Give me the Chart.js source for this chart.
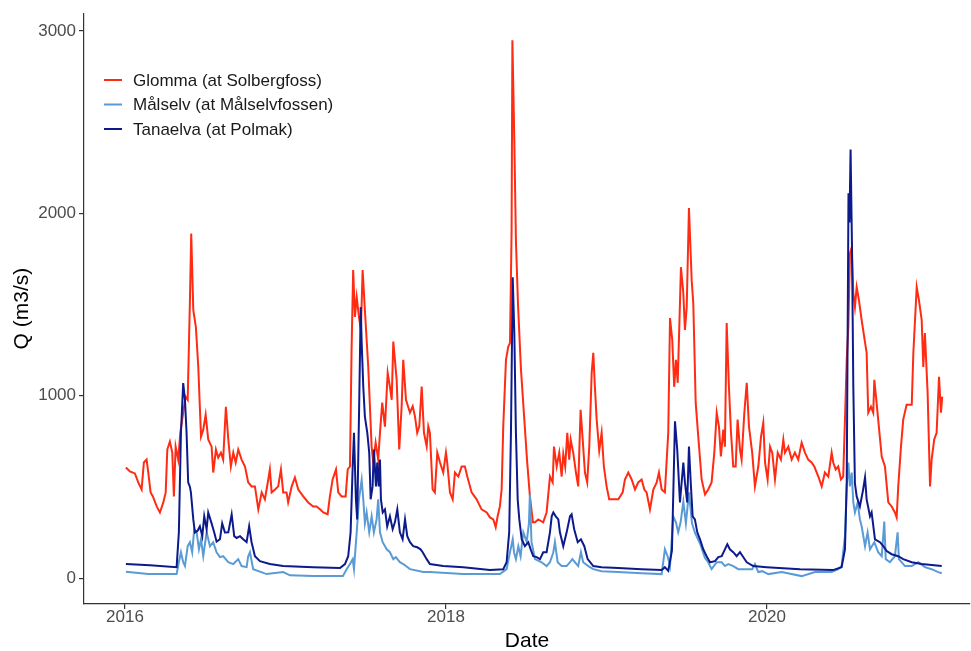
<!DOCTYPE html>
<html>
<head>
<meta charset="utf-8">
<script src="https://cdn.jsdelivr.net/npm/chart.js@4.4.1/dist/chart.umd.min.js"></script>
<style>
  html, body { margin: 0; padding: 0; background: #fff; }
  canvas { display: block; }
</style>
</head>
<body>
<canvas id="grafik" width="971" height="651"></canvas>
<script>
// tick labels
const xTicks = [2016, 2018, 2020];
const yTicks = [0, 1000, 2000, 3000];

const namaSungai = ['Glomma (at Solbergfoss)', 'Målselv (at Målselvfossen)', 'Tanaelva (at Polmak)'];
const warna = ['#ff2b12', '#5b9bd5', '#0c1a8c'];

// Glomma (decimal year, Q m3/s)
const glommaDates = [2016.006,2016.031,2016.062,2016.083,2016.104,2016.118,2016.135,2016.143,2016.160,2016.174,2016.198,2016.218,2016.239,2016.254,2016.264,2016.280,2016.295,2016.305,2016.316,2016.332,2016.345,2016.363,2016.378,2016.391,2016.405,2016.413,2016.426,2016.442,2016.457,2016.474,2016.488,2016.503,2016.519,2016.540,2016.550,2016.567,2016.581,2016.598,2016.612,2016.629,2016.644,2016.660,2016.675,2016.690,2016.706,2016.727,2016.748,2016.768,2016.789,2016.810,2016.831,2016.852,2016.872,2016.893,2016.903,2016.914,2016.935,2016.955,2016.972,2016.986,2017.007,2017.017,2017.039,2017.059,2017.080,2017.111,2017.142,2017.173,2017.194,2017.215,2017.236,2017.263,2017.277,2017.294,2017.315,2017.329,2017.350,2017.375,2017.388,2017.402,2017.412,2017.422,2017.433,2017.444,2017.458,2017.470,2017.481,2017.495,2017.516,2017.537,2017.547,2017.562,2017.578,2017.589,2017.603,2017.620,2017.637,2017.651,2017.662,2017.672,2017.693,2017.709,2017.724,2017.734,2017.751,2017.776,2017.793,2017.807,2017.821,2017.834,2017.849,2017.863,2017.880,2017.890,2017.900,2017.917,2017.931,2017.946,2017.963,2017.983,2018.000,2018.008,2018.025,2018.042,2018.056,2018.077,2018.098,2018.118,2018.133,2018.160,2018.191,2018.222,2018.254,2018.274,2018.295,2018.310,2018.322,2018.336,2018.347,2018.357,2018.374,2018.388,2018.399,2018.409,2018.414,2018.426,2018.436,2018.449,2018.467,2018.486,2018.505,2018.523,2018.542,2018.555,2018.575,2018.606,2018.627,2018.648,2018.665,2018.673,2018.690,2018.706,2018.721,2018.731,2018.743,2018.756,2018.768,2018.777,2018.793,2018.810,2018.824,2018.839,2018.852,2018.866,2018.880,2018.893,2018.908,2018.918,2018.928,2018.939,2018.955,2018.970,2018.984,2019.001,2019.017,2019.042,2019.074,2019.101,2019.115,2019.136,2019.157,2019.178,2019.198,2019.219,2019.236,2019.250,2019.271,2019.292,2019.313,2019.327,2019.344,2019.364,2019.385,2019.396,2019.410,2019.422,2019.433,2019.444,2019.458,2019.464,2019.479,2019.489,2019.500,2019.514,2019.531,2019.541,2019.556,2019.572,2019.593,2019.614,2019.634,2019.655,2019.672,2019.687,2019.701,2019.713,2019.728,2019.738,2019.749,2019.763,2019.776,2019.790,2019.805,2019.817,2019.832,2019.842,2019.859,2019.874,2019.888,2019.908,2019.925,2019.946,2019.963,2019.977,2019.988,2020.004,2020.019,2020.033,2020.050,2020.067,2020.087,2020.102,2020.112,2020.133,2020.154,2020.174,2020.195,2020.216,2020.237,2020.257,2020.278,2020.295,2020.320,2020.341,2020.361,2020.382,2020.403,2020.413,2020.428,2020.444,2020.461,2020.475,2020.486,2020.497,2020.507,2020.517,2020.528,2020.538,2020.548,2020.559,2020.573,2020.590,2020.606,2020.621,2020.631,2020.648,2020.662,2020.669,2020.683,2020.693,2020.715,2020.735,2020.756,2020.777,2020.797,2020.808,2020.818,2020.835,2020.849,2020.870,2020.902,2020.912,2020.933,2020.947,2020.964,2020.974,2020.984,2021.001,2021.016,2021.026,2021.042,2021.057,2021.072,2021.084,2021.092];
const glommaQ = [607,585,574,525,486,634,650,596,470,448,393,360,415,470,705,749,688,448,721,650,797,907,995,978,1525,1890,1470,1377,1158,776,814,896,760,721,579,705,661,688,650,940,760,612,688,634,705,650,612,525,503,503,377,470,432,541,596,470,486,503,596,470,470,415,503,552,486,448,415,393,393,377,360,350,448,541,596,470,448,448,596,612,1251,1689,1432,1541,1432,1361,1689,1470,1158,721,634,743,650,797,962,831,1126,1049,978,1297,1087,705,942,1197,978,907,942,887,797,832,1051,797,723,832,797,486,470,688,634,579,688,634,470,432,579,557,612,612,557,470,432,377,360,333,322,279,339,393,486,831,1197,1268,1290,1900,2950,2400,1852,1500,1150,900,650,450,306,306,322,306,360,557,525,721,612,688,557,680,612,797,650,760,688,579,503,923,760,579,525,721,1126,1235,1049,869,700,797,612,503,432,432,432,470,541,579,541,486,525,541,486,470,377,486,525,579,486,470,797,1426,1306,1049,1197,1071,1508,1705,1563,1361,1486,2030,1634,1508,962,776,541,459,486,525,688,907,831,667,814,721,1399,1049,797,612,612,869,705,650,907,1071,831,688,503,612,776,852,634,541,721,688,541,688,650,760,688,721,650,688,650,743,688,650,634,612,557,503,579,557,688,634,596,612,541,557,869,1197,1377,1781,1814,1563,1486,1596,1525,1415,1322,1235,907,940,907,1087,962,869,667,612,415,393,360,333,503,721,869,951,951,1235,1596,1525,1415,1158,1344,1016,503,650,760,797,1104,907,995];

// Målselv
const malselvDates = [2016.006,2016.145,2016.322,2016.336,2016.349,2016.363,2016.374,2016.391,2016.405,2016.419,2016.432,2016.447,2016.461,2016.474,2016.488,2016.509,2016.530,2016.550,2016.571,2016.592,2016.612,2016.644,2016.675,2016.706,2016.727,2016.758,2016.768,2016.779,2016.799,2016.883,2016.986,2017.028,2017.171,2017.358,2017.381,2017.402,2017.419,2017.427,2017.444,2017.458,2017.475,2017.485,2017.495,2017.506,2017.522,2017.537,2017.551,2017.568,2017.578,2017.589,2017.606,2017.631,2017.651,2017.672,2017.688,2017.713,2017.734,2017.776,2017.859,2017.900,2018.106,2018.336,2018.378,2018.399,2018.416,2018.424,2018.436,2018.451,2018.465,2018.482,2018.503,2018.517,2018.523,2018.533,2018.555,2018.596,2018.627,2018.648,2018.669,2018.679,2018.696,2018.721,2018.752,2018.773,2018.787,2018.804,2018.824,2018.841,2018.855,2018.887,2018.918,2018.970,2019.072,2019.219,2019.344,2019.364,2019.381,2019.396,2019.416,2019.433,2019.447,2019.462,2019.479,2019.495,2019.514,2019.533,2019.551,2019.583,2019.614,2019.634,2019.655,2019.687,2019.718,2019.738,2019.759,2019.790,2019.821,2019.863,2019.908,2019.925,2019.946,2019.971,2020.008,2020.092,2020.216,2020.299,2020.403,2020.444,2020.465,2020.486,2020.497,2020.507,2020.517,2020.528,2020.538,2020.548,2020.565,2020.579,2020.590,2020.611,2020.627,2020.642,2020.669,2020.693,2020.715,2020.731,2020.740,2020.766,2020.797,2020.814,2020.822,2020.860,2020.902,2020.943,2020.984,2021.026,2021.067,2021.089];
const malselvQ = [35,22,22,87,142,87,66,175,197,142,268,251,158,213,120,251,175,197,142,115,120,87,77,104,66,60,120,142,49,22,33,15,11,11,49,77,104,49,251,432,540,432,300,360,251,339,251,322,432,251,197,158,142,104,115,87,77,49,33,33,22,22,49,142,213,142,104,175,120,251,200,300,460,200,104,87,66,87,142,197,87,66,66,87,104,87,66,142,87,66,49,38,33,27,22,158,120,66,339,306,251,306,420,300,470,300,250,190,110,87,49,87,87,66,77,66,49,49,49,77,33,38,22,33,11,33,33,49,66,230,503,634,503,579,415,360,415,322,284,175,251,158,197,142,120,310,104,87,120,251,104,66,66,87,60,49,33,27];

// Tanaelva
const tanaDates = [2016.006,2016.156,2016.322,2016.336,2016.349,2016.363,2016.374,2016.384,2016.394,2016.405,2016.411,2016.426,2016.436,2016.453,2016.467,2016.482,2016.494,2016.509,2016.519,2016.540,2016.556,2016.571,2016.592,2016.606,2016.623,2016.644,2016.665,2016.681,2016.696,2016.717,2016.737,2016.758,2016.774,2016.789,2016.810,2016.841,2016.903,2016.986,2017.173,2017.340,2017.371,2017.391,2017.406,2017.419,2017.427,2017.439,2017.447,2017.460,2017.469,2017.475,2017.485,2017.495,2017.510,2017.522,2017.531,2017.543,2017.551,2017.564,2017.572,2017.581,2017.589,2017.595,2017.606,2017.620,2017.634,2017.651,2017.668,2017.682,2017.697,2017.713,2017.730,2017.745,2017.759,2017.776,2017.796,2017.821,2017.842,2017.855,2017.880,2017.900,2017.983,2018.108,2018.274,2018.357,2018.378,2018.394,2018.405,2018.416,2018.426,2018.436,2018.447,2018.457,2018.472,2018.492,2018.513,2018.528,2018.544,2018.565,2018.586,2018.606,2018.627,2018.648,2018.659,2018.669,2018.684,2018.700,2018.710,2018.731,2018.752,2018.773,2018.783,2018.799,2018.821,2018.841,2018.862,2018.883,2018.918,2018.970,2019.074,2019.219,2019.344,2019.364,2019.385,2019.408,2019.427,2019.441,2019.458,2019.479,2019.489,2019.503,2019.514,2019.525,2019.537,2019.551,2019.566,2019.583,2019.603,2019.624,2019.645,2019.676,2019.697,2019.718,2019.738,2019.753,2019.769,2019.790,2019.811,2019.832,2019.849,2019.874,2019.915,2019.998,2020.206,2020.411,2020.465,2020.486,2020.497,2020.508,2020.514,2020.521,2020.530,2020.538,2020.548,2020.559,2020.579,2020.598,2020.611,2020.621,2020.642,2020.652,2020.673,2020.704,2020.725,2020.746,2020.777,2020.818,2020.849,2020.902,2020.964,2021.089];
const tanaQ = [77,70,60,251,797,1070,978,797,525,500,470,322,250,260,284,230,340,268,360,300,251,200,213,300,250,251,350,230,220,230,213,197,284,197,120,93,77,66,60,55,77,120,251,612,797,432,322,978,1486,1290,1049,886,797,688,432,503,705,503,634,503,650,432,360,377,284,339,268,306,377,251,213,322,230,197,175,169,158,142,104,77,66,60,44,49,87,251,797,1650,1344,797,432,322,213,175,197,158,120,115,104,142,142,251,339,360,339,322,251,175,251,339,350,268,197,213,175,104,66,60,55,49,44,60,40,150,860,705,415,634,525,415,721,525,339,322,251,213,158,120,87,93,115,120,158,186,158,142,120,142,120,87,66,60,49,44,60,158,525,2110,1950,2350,1800,1050,520,448,393,480,552,432,339,360,213,197,175,148,131,120,104,87,77,66];

const toPoints = (dates, q) => dates.map((d, i) => ({ x: d, y: q[i] }));

const legendInside = {
  id: 'legendInside',
  afterDatasetsDraw(chart) {
    const ctx = chart.ctx;
    ctx.save();
    chart.data.datasets.forEach((ds, i) => {
      const y = 80 + i * 24.5;
      ctx.strokeStyle = ds.borderColor;
      ctx.lineWidth = 2;
      ctx.beginPath();
      ctx.moveTo(104, y);
      ctx.lineTo(122, y);
      ctx.stroke();
      ctx.fillStyle = '#1a1a1a';
      ctx.font = '17px "Liberation Sans", Arial, sans-serif';
      ctx.textBaseline = 'middle';
      ctx.fillText(ds.label, 133, y + 1);
    });
    ctx.restore();
  }
};

const sumbu = {
  display: true, drawOnChartArea: false, drawTicks: true,
  tickLength: 5, color: '#333', lineWidth: 1.2
};

Chart.defaults.font.family = '"Liberation Sans", Arial, sans-serif';

new Chart(document.getElementById('grafik'), {
  type: 'line',
  data: {
    datasets: [
      { label: namaSungai[0], data: toPoints(glommaDates, glommaQ), borderColor: warna[0], order: 3 },
      { label: namaSungai[1], data: toPoints(malselvDates, malselvQ), borderColor: warna[1], order: 2 },
      { label: namaSungai[2], data: toPoints(tanaDates, tanaQ), borderColor: warna[2], order: 1 }
    ]
  },
  options: {
    responsive: false,
    animation: false,
    devicePixelRatio: 1,
    elements: {
      line: { borderWidth: 2, tension: 0, fill: false },
      point: { radius: 0 }
    },
    layout: { padding: { top: 12, right: 1, left: 0, bottom: 0 } },
    plugins: { legend: { display: false }, tooltip: { enabled: false } },
    scales: {
      x: {
        type: 'linear',
        min: 2015.745,
        max: 2021.265,
        afterBuildTicks: s => { s.ticks = xTicks.map(v => ({ value: v })); },
        afterFit: s => { s.height = 47; },
        grid: sumbu,
        border: { display: true, color: '#333', width: 1.2 },
        ticks: { color: '#4d4d4d', font: { size: 17 }, padding: -2, callback: v => String(v), maxRotation: 0 },
        title: { display: true, text: 'Date', color: '#000', font: { size: 21, lineHeight: 1 }, padding: { top: 0, bottom: -1 } }
      },
      y: {
        min: -142,
        max: 3098,
        afterBuildTicks: s => { s.ticks = yTicks.map(v => ({ value: v })); },
        afterFit: s => { s.width = 84; },
        grid: sumbu,
        border: { display: true, color: '#333', width: 1.2 },
        ticks: { color: '#4d4d4d', font: { size: 17 }, padding: 3, callback: v => String(v) },
        title: { display: true, text: 'Q (m3/s)', color: '#000', font: { size: 21, lineHeight: 1 }, padding: { top: 12, bottom: 0 } }
      }
    }
  },
  plugins: [legendInside]
});
</script>
</body>
</html>
